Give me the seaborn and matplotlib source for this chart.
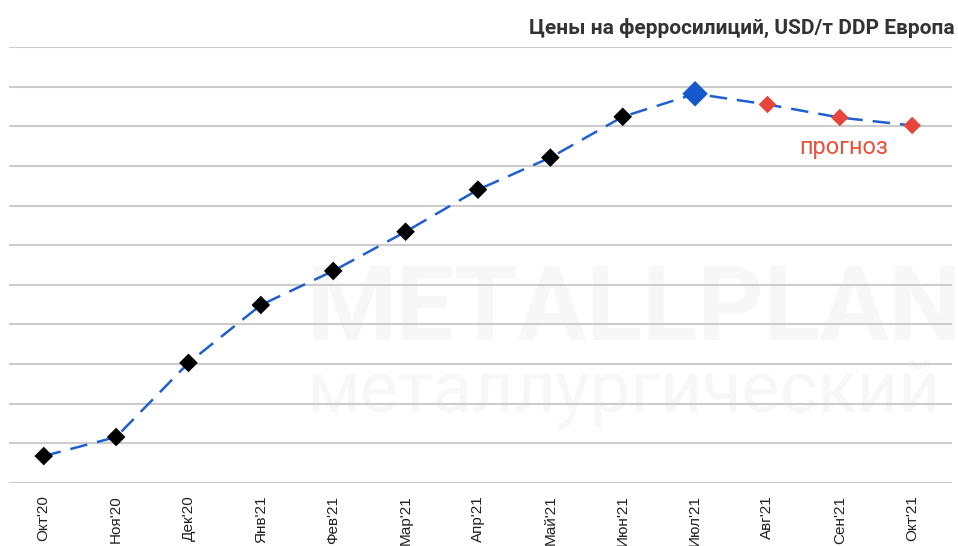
import pandas as pd
import numpy as np
import matplotlib.pyplot as plt
import seaborn as sns

months = ["Окт'20", "Ноя'20", "Дек'20", "Янв'21", "Фев'21", "Мар'21", "Апр'21",
          "Май'21", "Июн'21", "Июл'21", "Авг'21", "Сен'21", "Окт'21"]
prices = [1068, 1116, 1303, 1449, 1535, 1634, 1740, 1821, 1924, 1982, 1955, 1922, 1902]
kind = ['факт'] * 9 + ['текущий'] + ['прогноз'] * 3

df = pd.DataFrame({'month': months, 'price': prices, 'kind': kind})
df['pos'] = np.arange(len(df))

sns.set_style('white')
plt.rcParams['font.family'] = ['Liberation Sans', 'DejaVu Sans']

fig = plt.figure(figsize=(9.58, 5.46), dpi=100)
ax = fig.add_axes([9 / 958, 1 - 483 / 546, 943 / 958, 436 / 546])

# faint watermark, kept behind grid and marks
ax.text(0.32, 0.43, 'METALLPLANT', fontsize=74, fontweight='bold', color='#f7f7f7',
        family=['Roboto', 'DejaVu Sans'], va='center', ha='left', zorder=0.1,
        transform=fig.transFigure, clip_on=False)
ax.text(0.32, 0.28, 'металлургический', fontsize=52, color='#f7f7f7',
        family=['Roboto', 'DejaVu Sans'], va='center', ha='left', zorder=0.1,
        transform=fig.transFigure, clip_on=False)

sns.lineplot(data=df, x='pos', y='price', ax=ax, color='#1f5fd0', linewidth=1.8,
             linestyle=(0, (7, 4)), zorder=2)
sns.scatterplot(data=df[df.kind == 'факт'], x='pos', y='price', ax=ax, marker='D',
                s=90, color='black', edgecolor='none', zorder=3)
sns.scatterplot(data=df[df.kind == 'текущий'], x='pos', y='price', ax=ax, marker='D',
                s=170, color='#1558cc', edgecolor='none', zorder=3)
sns.scatterplot(data=df[df.kind == 'прогноз'], x='pos', y='price', ax=ax, marker='D',
                s=80, color='#e8453a', edgecolor='none', zorder=3)

ax.set_xlim(-0.48, 12.55)
ax.set_ylim(1000, 2100)
ax.set_yticks(np.arange(1000, 2101, 100))
ax.set_yticklabels([])
ax.yaxis.grid(True, color='#cccccc', linewidth=1.5, zorder=0.5)
ax.set_axisbelow(True)
for sp in ax.spines.values():
    sp.set_visible(False)
ax.tick_params(axis='both', length=0)
ax.set_xticks(df['pos'])
ax.set_xticklabels(df['month'], rotation=90, fontsize=11, color='#222222')
ax.tick_params(axis='x', pad=9)
ax.set_xlabel('')
ax.set_ylabel('')

ax.text(11.05, 1846, 'прогноз', color='#e8513a', fontsize=17, ha='center', va='center',
        family=['Roboto', 'DejaVu Sans'], zorder=4)

fig.text(955 / 958, 1 - 28 / 546, 'Цены на ферросилиций, USD/т DDP Европа',
         ha='right', va='center', fontsize=15, fontweight='bold', color='#333333',
         family=['Roboto', 'DejaVu Sans'])

fig.savefig('out.png', dpi=100)
plt.close(fig)
